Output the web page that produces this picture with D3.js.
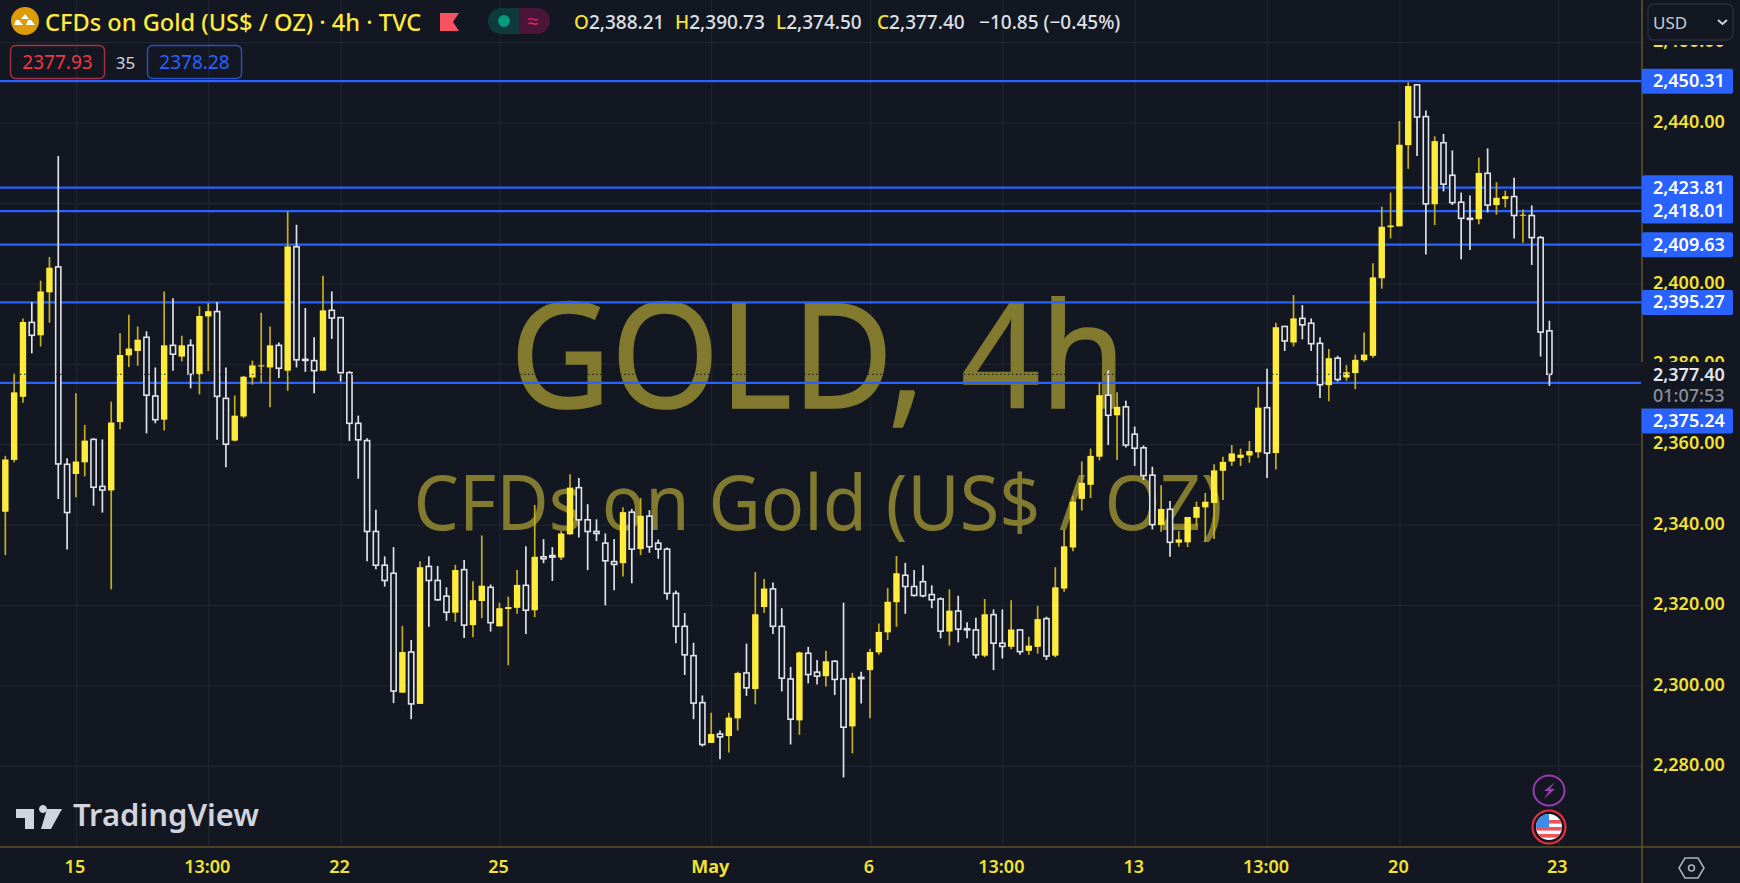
<!DOCTYPE html>
<html>
<head>
<meta charset="utf-8">
<script src="https://cdn.jsdelivr.net/npm/d3@7/dist/d3.min.js"></script>
<style>
html,body{margin:0;padding:0;background:#131722;overflow:hidden}
svg{display:block}
text{font-family:"Noto Sans",sans-serif}
</style>
</head>
<body>
<svg id="chart" width="1740" height="883"></svg>
<script>
const opens=[2343.2,2356.1,2371.8,2390.3,2387.1,2397.8,2404.1,2355.0,2352.6,2355.5,2361.2,2349.5,2348.5,2365.5,2382.1,2383.2,2386.6,2372.0,2366.1,2384.6,2381.8,2384.6,2377.4,2391.8,2393.0,2371.4,2360.9,2366.9,2376.6,2379.5,2379.1,2384.6,2378.3,2409.1,2381.1,2380.8,2378.3,2393.3,2391.5,2377.8,2365.2,2360.9,2338.3,2329.9,2327.9,2298.2,2308.3,2295.4,2329.6,2326.1,2322.2,
2318.1,2328.8,2315.0,2321.0,2324.4,2314.7,2319.0,2319.3,2324.9,2318.7,2332.0,2332.3,2331.8,2337.6,2349.2,2341.2,2338.3,2335.4,2330.8,2330.4,2343.1,2333.9,2342.1,2335.4,2333.9,2322.9,2314.7,2307.4,2295.7,2285.7,2287.9,2287.4,2291.8,2303.1,2299.1,2319.5,2324.0,2314.7,2301.6,2291.3,2308.0,2303.3,2302.3,2306.0,2301.6,2289.8,2302.0,2303.8,2308.2,2313.2,
2320.7,2327.4,2324.6,2325.8,2322.6,2321.5,2313.4,2318.5,2314.1,2313.8,2307.4,2317.6,2310.5,2309.6,2313.8,2308.6,2309.6,2316.6,2307.4,2324.1,2334.3,2346.4,2349.9,2356.9,2372.2,2367.2,2369.3,2362.5,2359.1,2352.3,2339.9,2343.8,2335.5,2335.6,2341.7,2344.3,2345.4,2353.4,2355.7,2356.6,2357.2,2358.0,2369.1,
2357.8,2389.3,2385.3,2391.3,2390.1,2385.1,2374.7,2381.4,2376.6,2377.7,2380.9,2382.0,2401.3,2414.0,2414.2,2434.4,2449.4,2441.5,2419.7,2435.0,2426.9,2420.2,2416.2,2416.0,2427.4,2419.5,2421.0,2421.6,2416.9,2416.9,2411.4,2388.21];
const highs=[2357.1,2377.6,2391.3,2395.4,2400.7,2406.6,2431.7,2356.5,2372.7,2364.8,2361.5,2361.2,2370.6,2387.6,2392.2,2389.3,2388.1,2379.1,2398.0,2396.3,2387.0,2386.1,2394.3,2395.1,2395.4,2379.1,2372.1,2377.0,2380.8,2392.7,2389.3,2385.3,2417.9,2414.6,2393.9,2386.6,2401.9,2398.0,2391.6,2378.2,2367.1,2361.5,2343.7,2332.1,2334.4,2314.8,2311.3,2330.9,2332.1,2329.7,2324.4,
2330.0,2331.2,2325.9,2337.3,2325.1,2320.6,2322.1,2328.7,2334.6,2344.9,2336.4,2334.4,2338.4,2352.5,2351.6,2345.1,2341.3,2337.8,2336.4,2344.3,2343.9,2346.6,2343.6,2336.3,2334.3,2323.6,2318.0,2310.6,2297.5,2293.2,2288.8,2293.2,2303.4,2310.4,2328.2,2326.5,2325.6,2319.2,2304.6,2308.4,2309.6,2306.3,2308.6,2306.3,2320.6,2303.1,2303.4,2309.1,2315.4,2324.2,
2332.2,2330.5,2328.7,2329.9,2324.9,2321.9,2323.9,2322.3,2315.7,2316.8,2321.5,2318.9,2318.9,2321.2,2313.9,2312.1,2319.8,2317.1,2329.4,2338.7,2347.2,2355.7,2358.9,2375.3,2378.4,2372.9,2370.8,2364.4,2359.7,2354.4,2349.8,2345.9,2338.4,2341.9,2345.7,2347.9,2355.0,2356.9,2359.8,2358.9,2360.8,2374.3,2378.8,
2390.2,2389.3,2397.1,2394.6,2391.3,2386.6,2383.7,2382.0,2379.7,2382.3,2387.8,2405.0,2419.1,2422.6,2440.4,2450.0,2449.4,2443.0,2436.6,2437.2,2433.1,2422.6,2421.9,2431.3,2433.6,2425.2,2423.1,2426.3,2418.4,2419.4,2411.8,2390.73];
const lows=[2332.4,2355.5,2370.3,2382.6,2384.3,2390.2,2346.4,2333.8,2346.8,2352.0,2344.7,2343.0,2323.9,2363.7,2379.2,2379.5,2362.7,2365.2,2363.4,2378.3,2380.6,2373.9,2372.4,2378.2,2361.1,2354.3,2360.7,2366.5,2374.8,2375.3,2369.2,2376.5,2373.3,2379.1,2378.0,2372.7,2378.3,2386.2,2375.6,2360.8,2351.4,2330.9,2328.9,2324.6,2295.6,2298.2,2291.6,2295.4,2314.6,2321.0,2316.1,
2315.8,2311.8,2312.0,2316.7,2313.4,2314.7,2305.0,2317.8,2312.8,2317.0,2330.4,2326.0,2331.2,2337.4,2336.8,2328.7,2335.9,2319.9,2323.7,2327.1,2325.4,2332.4,2333.0,2331.5,2321.3,2310.5,2302.6,2291.6,2284.8,2285.7,2281.6,2283.3,2288.8,2297.4,2295.3,2318.1,2312.8,2298.5,2285.3,2287.7,2300.5,2300.2,2299.7,2297.6,2277.1,2283.1,2295.5,2291.8,2307.6,2311.3,
2314.6,2317.8,2322.1,2321.9,2319.2,2311.7,2309.9,2310.7,2311.7,2306.7,2307.0,2303.8,2306.7,2309.0,2307.6,2307.6,2307.9,2306.3,2307.0,2323.3,2333.4,2343.5,2346.6,2356.0,2359.8,2356.1,2359.2,2354.6,2351.1,2338.8,2338.2,2332.0,2334.5,2334.4,2339.6,2335.7,2336.4,2346.1,2354.6,2354.6,2355.4,2356.6,2351.6,
2353.7,2383.2,2384.3,2386.1,2383.2,2371.5,2370.7,2375.6,2375.8,2373.7,2380.5,2381.5,2398.7,2411.2,2414.2,2428.5,2431.7,2407.2,2414.5,2422.9,2419.5,2406.0,2408.3,2414.7,2417.7,2417.1,2418.9,2411.2,2410.1,2404.6,2381.8,2374.50];
const closes=[2356.2,2372.9,2390.4,2387.1,2398.0,2403.9,2355.1,2343.0,2355.7,2360.9,2349.3,2348.6,2365.4,2382.2,2383.8,2386.0,2372.2,2366.1,2384.6,2382.4,2384.6,2377.4,2391.9,2393.1,2371.9,2360.0,2367.1,2376.8,2379.6,2379.6,2384.6,2378.9,2409.2,2381.0,2380.9,2378.3,2393.3,2391.4,2377.8,2365.2,2361.1,2338.3,2329.9,2326.1,2298.6,2308.3,2295.4,2329.4,2326.1,2321.3,2318.2,
2328.7,2315.0,2321.2,2324.8,2315.6,2319.2,2319.5,2325.0,2318.7,2332.0,2331.5,2331.9,2337.8,2349.2,2341.2,2338.3,2337.8,2331.0,2330.1,2343.1,2333.9,2342.2,2334.5,2333.9,2322.9,2314.7,2307.6,2295.6,2285.3,2287.9,2287.2,2292.0,2303.1,2299.4,2317.7,2324.1,2314.7,2301.8,2291.6,2308.2,2302.7,2302.3,2306.0,2301.5,2289.6,2301.9,2301.7,2308.3,2313.3,2320.8,
2327.9,2324.6,2322.4,2322.3,2321.3,2313.5,2318.6,2314.0,2313.8,2307.6,2317.7,2310.5,2309.7,2313.9,2308.4,2309.9,2316.5,2307.3,2324.4,2334.6,2345.7,2350.4,2357.1,2372.2,2367.2,2369.3,2359.8,2359.0,2352.2,2340.0,2343.9,2335.6,2336.3,2341.9,2344.4,2345.7,2353.5,2355.6,2357.7,2357.4,2358.3,2369.1,2357.8,
2389.1,2385.7,2391.3,2389.7,2385.0,2374.8,2381.4,2376.1,2377.9,2381.0,2382.3,2401.5,2414.1,2414.4,2434.5,2449.1,2441.4,2419.8,2435.4,2424.7,2420.1,2416.2,2416.0,2427.5,2419.5,2421.3,2421.7,2416.9,2417.1,2411.4,2387.9,2377.40];
const levels=[2450.31,2423.81,2418.01,2409.63,2395.27,2375.24];
const priceTicks=[2280,2300,2320,2340,2360,2380,2400,2420,2440,2460];
const axisPriceLabels=[2280,2300,2320,2340,2360,2380,2400,2440,2460];
const timeIdx=[8,23,38,56,80,98,113,128,143,158,176];
const timeLabels=["15","13:00","22","25","May","6","13:00","13","13:00","20","23"];
const lastPrice=2377.40;
const countdown="01:07:53";
const titleText="CFDs on Gold (US$ / OZ) · 4h · TVC";
const ohlcLetters=["O","H","L","C"];
const ohlcValues=["2,388.21","2,390.73","2,374.50","2,377.40"];
const changeText="−10.85 (−0.45%)";
const sellText="2377.93",spreadText="35",buyText="2378.28";

const BG="#131722",YEL="#ffeb3b",YW="#c4ae1f",WH="#dfe1e8",BLUE="#2962ff",GRID="#1f232f",AX="#5e5425",TICK="#f2e232";
const W=1740,H=883,PW=1642,PH=847;
const svg=d3.select("#chart");
const x=d3.scaleLinear().domain([0,175]).range([5.33,1549.4]);
const y=d3.scaleLinear().domain([2280,2450.31]).range([765.8,81.2]);

svg.append("rect").attr("width",W).attr("height",H).attr("fill",BG);

// grid through axes
const gy=svg.append("g").attr("class","gridY").call(d3.axisRight(y).tickValues(priceTicks).tickSize(PW).tickFormat(""));
gy.select(".domain").remove(); gy.selectAll("line").attr("stroke",GRID).attr("stroke-width",1.4);
const gx=svg.append("g").attr("class","gridX").attr("transform",`translate(0,${PH})`)
  .call(d3.axisTop(x).tickValues(timeIdx).tickSize(PH).tickFormat(""));
gx.select(".domain").remove(); gx.selectAll("line").attr("stroke",GRID).attr("stroke-width",1.4);

// watermark
const wm=svg.append("g").attr("fill","#827a2e").attr("text-anchor","middle");
wm.append("text").attr("x",818).attr("y",408).attr("font-size",147).attr("stroke","#827a2e").attr("stroke-width",1.5)
  .attr("textLength",616).attr("lengthAdjust","spacingAndGlyphs").text("GOLD, 4h");
wm.append("text").attr("x",818).attr("y",530).attr("font-size",77)
  .attr("textLength",809).attr("lengthAdjust","spacingAndGlyphs").text("CFDs on Gold (US$ / OZ)");

// horizontal levels
svg.append("g").selectAll("line").data(levels).join("line")
  .attr("x1",0).attr("x2",PW).attr("y1",d=>y(d)).attr("y2",d=>y(d))
  .attr("stroke",BLUE).attr("stroke-width",2.3);

// candles
const idx=d3.range(opens.length);
const c=svg.append("g").selectAll("g").data(idx).join("g");
const up=i=>closes[i]>=opens[i];
c.append("line").attr("x1",i=>x(i)).attr("x2",i=>x(i))
  .attr("y1",i=>y(highs[i])).attr("y2",i=>y(lows[i]))
  .attr("stroke",i=>up(i)?YW:WH).attr("stroke-width",1.7);
c.append("rect").attr("x",i=>x(i)-(up(i)?3.2:2.6)).attr("width",i=>up(i)?6.4:5.2)
  .attr("y",i=>Math.min(y(opens[i]),y(closes[i])))
  .attr("height",i=>Math.max(1,Math.abs(y(opens[i])-y(closes[i]))))
  .attr("fill",i=>up(i)?YEL:BG).attr("stroke",i=>up(i)?"none":WH).attr("stroke-width",1.6);

// last price dotted line
svg.append("line").attr("x1",0).attr("x2",PW).attr("y1",y(lastPrice)).attr("y2",y(lastPrice))
  .attr("stroke",BG).attr("stroke-width",1.2).attr("stroke-dasharray","1.5 2.5").attr("opacity",.8);

// right price axis
const ax=svg.append("g").attr("transform",`translate(${PW},-1.8)`)
  .call(d3.axisRight(y).tickValues(axisPriceLabels).tickSize(0).tickPadding(11).tickFormat(d3.format(",.2f")));
ax.select(".domain").remove();
ax.selectAll("text").attr("fill",TICK).attr("font-size",18).attr("font-weight",600).attr("font-family",'"Noto Sans",sans-serif').attr("dy","0.36em");

// axes borders
svg.append("line").attr("x1",PW).attr("x2",PW).attr("y1",0).attr("y2",H).attr("stroke",AX).attr("stroke-width",1.6);
svg.append("line").attr("x1",0).attr("x2",W).attr("y1",PH).attr("y2",PH).attr("stroke",AX).attr("stroke-width",1.6);

// USD box area
svg.append("rect").attr("x",PW+1).attr("y",0).attr("width",W-PW-1).attr("height",45).attr("fill",BG);
svg.append("rect").attr("x",1648).attr("y",4).attr("width",85).attr("height",36).attr("rx",6).attr("fill",BG).attr("stroke","#2a2e39").attr("stroke-width",1.4);
svg.append("text").attr("x",1653).attr("y",29).attr("font-size",17).attr("fill","#c8ccd8").text("USD");
svg.append("path").attr("d","M1718 20l4.5 4 4.5-4").attr("fill","none").attr("stroke","#d1d4dc").attr("stroke-width",1.8);

// last price label
svg.append("rect").attr("x",PW-1).attr("y",362).attr("width",W-PW+1).attr("height",46).attr("fill",BG);
svg.append("text").attr("x",1653).attr("y",380.5).attr("font-size",18).attr("font-weight",600).attr("fill","#e4e6ec").text(d3.format(",.2f")(lastPrice));
svg.append("text").attr("x",1653).attr("y",402).attr("font-size",18).attr("font-weight",500).attr("fill","#8a8e99").text(countdown);

// level labels; one below the last price gets pushed under its block
const labY=d=>d<lastPrice?421:y(d);
const lab=svg.append("g");
lab.append("g").selectAll("rect").data(levels).join("rect")
  .attr("x",PW).attr("y",d=>labY(d)-12.5).attr("width",91).attr("height",25).attr("rx",2).attr("fill",BLUE);
lab.append("g").selectAll("text").data(levels).join("text")
  .attr("x",1653).attr("y",d=>labY(d)+6).attr("font-size",18).attr("font-weight",600).attr("fill","#ffffff")
  .text(d3.format(",.2f"));

// time axis
const bx=svg.append("g").attr("transform",`translate(-1.5,${PH})`)
  .call(d3.axisBottom(x).tickValues(timeIdx).tickSize(0).tickPadding(13).tickFormat((d,i)=>timeLabels[i]));
bx.select(".domain").remove();
bx.selectAll("text").attr("fill",TICK).attr("font-size",18).attr("font-weight",d=>d===80?700:600).attr("font-family",'"Noto Sans",sans-serif');

// settings hexagon
svg.append("path").attr("d","M1679 868l6-10h13l6 10-6 10h-13z").attr("fill","none").attr("stroke","#b2b5be").attr("stroke-width",1.5);
svg.append("circle").attr("cx",1691.5).attr("cy",868).attr("r",3).attr("fill","none").attr("stroke","#b2b5be").attr("stroke-width",1.5);

// header
svg.append("circle").attr("cx",25).attr("cy",21).attr("r",14).attr("fill","#dc9c05");
svg.append("path").attr("d","M25 14l4 5h-8zM19 20l4 5h-9l2-5zM31 20l4 5h-9l2-5z").attr("fill","#fff");
svg.append("text").attr("x",45).attr("y",31).attr("font-size",23.6).attr("font-weight",500).attr("fill",YEL).text(titleText);
svg.append("path").attr("d","M440 13h19l-6 9 6 9h-19z").attr("fill","#f7525f");
svg.append("path").attr("d","M519 8h-18a13 13 0 0 0 0 26h18z").attr("fill","#0f3a3c");
svg.append("path").attr("d","M519 8h18a13 13 0 0 1 0 26h-18z").attr("fill","#4a1539");
svg.append("circle").attr("cx",504).attr("cy",21).attr("r",6).attr("fill","#089981");
svg.append("text").attr("x",533).attr("y",28).attr("text-anchor","middle").attr("font-size",20).attr("fill","#e91e63").text("≈");
const ohlcX=d3.scaleLinear().domain([0,3]).range([574,877]);
const ohlc=svg.append("g");
ohlcLetters.forEach((l,i)=>{
  const t=ohlc.append("text").attr("x",ohlcX(i)).attr("y",29).attr("font-size",19).attr("font-weight",500);
  t.append("tspan").attr("fill",TICK).text(l);
  t.append("tspan").attr("fill","#dfe1e8").text(ohlcValues[i]);
});
svg.append("text").attr("x",979).attr("y",29).attr("font-size",19).attr("font-weight",500).attr("fill","#dfe1e8").text(changeText);

// sell/buy boxes
svg.append("rect").attr("x",10.5).attr("y",45.5).attr("width",94).attr("height",33).attr("rx",5).attr("fill","none").attr("stroke","#a8323c").attr("stroke-width",1.4);
svg.append("text").attr("x",57.5).attr("y",69).attr("text-anchor","middle").attr("font-size",19).attr("fill","#f23645").text(sellText);
svg.append("text").attr("x",125.5).attr("y",69).attr("text-anchor","middle").attr("font-size",17).attr("fill","#d1d4dc").text(spreadText);
svg.append("rect").attr("x",147.5).attr("y",45.5).attr("width",94).attr("height",33).attr("rx",5).attr("fill","none").attr("stroke","#2a52be").attr("stroke-width",1.4);
svg.append("text").attr("x",194.5).attr("y",69).attr("text-anchor","middle").attr("font-size",19).attr("fill","#2962ff").text(buyText);

// TradingView logo
svg.append("path").attr("d","M16 809h18v20h-9v-11h-9zM47 809h15l-11 20h-10zM43 813a4 4 0 1 0-.01 0z").attr("fill","#d1d4dc");
svg.append("text").attr("x",73).attr("y",826).attr("font-size",31).attr("font-weight",600).attr("font-family","Inter,sans-serif").attr("fill","#d1d4dc")
  .attr("textLength",186).attr("lengthAdjust","spacingAndGlyphs").text("TradingView");

// event icons
svg.append("ellipse").attr("cx",1549).attr("cy",790.5).attr("rx",15.5).attr("ry",15).attr("fill",BG).attr("stroke","#9c3bb0").attr("stroke-width",2);
svg.append("path").attr("d","M1555 782l-11 9h5l-5 8 11-10h-5z").attr("fill","#9c3bb0");
svg.append("circle").attr("cx",1549).attr("cy",827).attr("r",16.5).attr("fill",BG).attr("stroke","#e5303f").attr("stroke-width",2.2);
const cid="flagClip";
svg.append("clipPath").attr("id",cid).append("circle").attr("cx",1549).attr("cy",827).attr("r",13);
const fl=svg.append("g").attr("clip-path",`url(#${cid})`);
fl.append("rect").attr("x",1536).attr("y",814).attr("width",26).attr("height",26).attr("fill","#fff");
fl.selectAll(".s").data([820,827,834]).join("rect").attr("x",1536).attr("y",d=>d).attr("width",26).attr("height",3.6).attr("fill","#f0525a");
fl.append("rect").attr("x",1536).attr("y",814).attr("width",13).attr("height",13).attr("fill","#3d8be8");
</script>
</body>
</html>
